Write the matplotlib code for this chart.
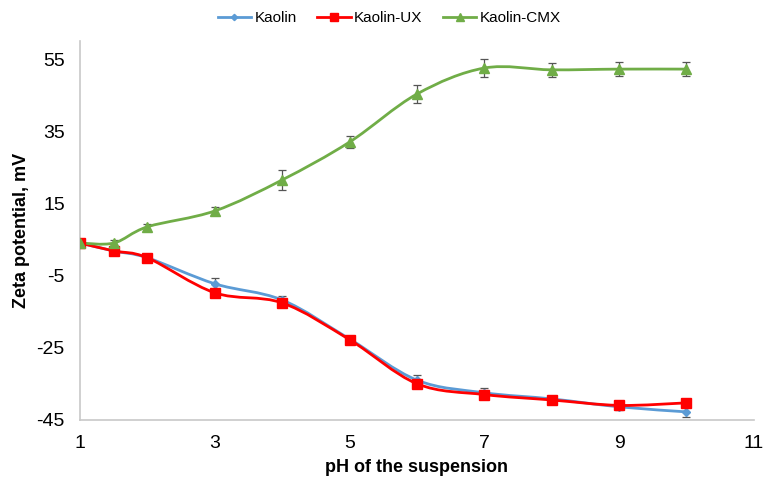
import matplotlib.pyplot as plt
import numpy as np
from matplotlib.path import Path
from matplotlib.patches import PathPatch

plt.rcParams['font.family'] = ['Liberation Sans', 'DejaVu Sans']
plt.rcParams['axes.unicode_minus'] = False

ph = [1, 1.5, 2, 3, 4, 5, 6, 7, 8, 9, 10]

kaolin = [4.0, 1.8, -0.1, -7.3, -11.8, -22.6, -34.0, -37.5, -39.2, -41.4, -42.8]
kaolin_err = [0, 0, 0, 1.5, 1.0, 0.8, 1.5, 1.2, 0.8, 0.8, 1.5]

kaolin_ux = [4.0, 1.8, -0.1, -9.8, -12.6, -22.8, -35.0, -38.0, -39.5, -41.0, -40.3]
kaolin_ux_err = [0, 0, 0, 0, 0, 0, 0, 0, 0, 0, 0]

kaolin_cmx = [4.0, 4.0, 8.5, 12.9, 21.5, 32.0, 45.3, 52.5, 52.0, 52.2, 52.2]
kaolin_cmx_err = [0, 0.8, 0.8, 1.2, 2.8, 1.8, 2.5, 2.5, 2.0, 2.0, 2.0]

labels = ["Kaolin", "Kaolin-UX", "Kaolin-CMX"]
colors = ["#5b9bd5", "#ff0000", "#70ad47"]
markers = ["D", "s", "^"]
msizes = [4, 7, 6.5]


def smooth_path(x, y, t=0.5):
    # bezier controls a la Excel "smoothed line"
    x = np.asarray(x, float)
    y = np.asarray(y, float)
    verts = [(x[0], y[0])]
    codes = [Path.MOVETO]
    n = len(x)
    for i in range(n - 1):
        p0 = np.array([x[max(i - 1, 0)], y[max(i - 1, 0)]])
        p1 = np.array([x[i], y[i]])
        p2 = np.array([x[i + 1], y[i + 1]])
        p3 = np.array([x[min(i + 2, n - 1)], y[min(i + 2, n - 1)]])
        c1 = p1 + (p2 - p0) * t / 3
        c2 = p2 - (p3 - p1) * t / 3
        verts += [tuple(c1), tuple(c2), tuple(p2)]
        codes += [Path.CURVE4] * 3
    return Path(verts, codes)


fig = plt.figure(figsize=(7.63, 4.82), dpi=100)
ax = fig.add_axes([0.105, 0.129, 0.883, 0.786])

series = [(kaolin, kaolin_err), (kaolin_ux, kaolin_ux_err), (kaolin_cmx, kaolin_cmx_err)]
handles = []
for (vals, err), lab, col, mk, ms in zip(series, labels, colors, markers, msizes):
    ax.errorbar(ph, vals, yerr=err, fmt="none", ecolor="#555555",
                elinewidth=0.9, capsize=3, capthick=0.9, zorder=2)
    ax.add_patch(PathPatch(smooth_path(ph, vals), facecolor="none",
                           edgecolor=col, lw=2.0, zorder=3))
    ax.plot(ph, vals, linestyle="none", color=col, marker=mk,
            markersize=ms, markeredgecolor=col, zorder=4)
    handles.append(plt.Line2D([], [], color=col, lw=2.0, marker=mk,
                              markersize=ms * 0.8))

ax.set_xlim(1, 11)
ax.set_ylim(-45, 60)
ax.set_xticks([1, 3, 5, 7, 9, 11])
ax.set_yticks([-45, -25, -5, 15, 35, 55])
ax.tick_params(length=0, labelsize=14, pad=11)
for s in ["top", "right"]:
    ax.spines[s].set_visible(False)
for s in ["left", "bottom"]:
    ax.spines[s].set_color("#c8c8c8")
    ax.spines[s].set_linewidth(1.2)

ax.set_xlabel("pH of the suspension", fontsize=13, fontweight="bold", labelpad=5)
ax.set_ylabel("Zeta potential, mV", fontsize=13, fontweight="bold", labelpad=5)

fig.legend(handles, labels, loc="upper center", bbox_to_anchor=(0.51, 1.005),
           ncol=3, frameon=False, fontsize=11, handlelength=2.2,
           columnspacing=1.35, handletextpad=0.2)

fig.savefig("out.png", dpi=100)
